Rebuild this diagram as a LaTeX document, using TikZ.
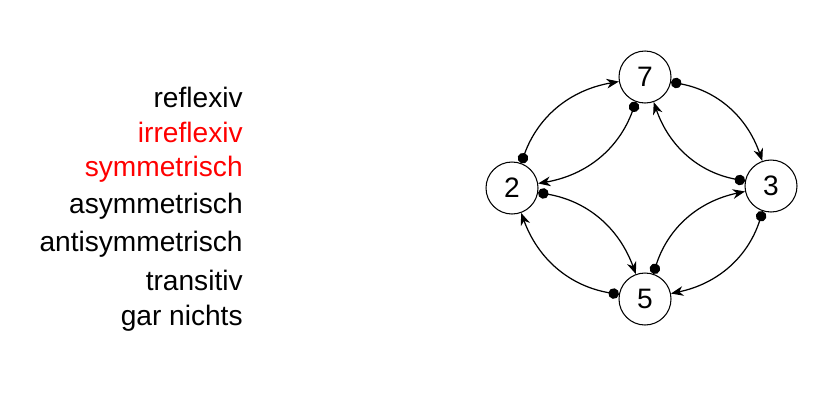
\documentclass[tikz,border=0pt]{standalone}
\usepackage{fontspec}
\setmainfont{Liberation Sans}
\usetikzlibrary{arrows.meta}

\tikzset{
  vertex/.style={circle, draw, line width=0.6pt, minimum size=1.04cm,
    inner sep=0pt, font=\fontsize{16}{19}\selectfont},
  rel/.style={line width=0.7pt, bend left=30,
    {Circle[length=6pt]}-{Stealth[length=7pt,width=5.5pt,inset=2.2pt]}},
  prop/.style={anchor=base east, inner sep=0pt,
    font=\fontsize{16}{19}\selectfont}
}

\begin{document}
\begin{tikzpicture}
\useasboundingbox (0,0) rectangle (16.38,-8.22);

% --- PROPERTIES (left column, right aligned) ---
\def\xP{4.86}            % right edge of the column
\node[prop] (refl)  at (\xP,-2.14) {reflexiv};
\node[prop, red] (irrefl) at (\xP,-2.84) {irreflexiv};
\node[prop, red] (sym)    at (\xP,-3.52) {symmetrisch};
\node[prop] (asym)  at (\xP,-4.27) {asymmetrisch};
\node[prop] (antis) at (\xP,-5.02) {antisymmetrisch};
\node[prop] (trans) at (\xP,-5.81) {transitiv};
\node[prop] (none)  at (\xP,-6.50) {gar nichts};

% --- VERTICES ---
\node[vertex] (n7) at (12.90,-1.54) {7};
\node[vertex] (n2) at (10.24,-3.76) {2};
\node[vertex] (n3) at (15.42,-3.72) {3};
\node[vertex] (n5) at (12.90,-5.98) {5};

% --- RELATION (every pair in both directions) ---
\foreach \a/\b in {n2/n7, n7/n3, n3/n5, n5/n2, n7/n2, n3/n7, n2/n5, n5/n3}
  \draw[rel] (\a) to (\b);

\end{tikzpicture}
\end{document}
